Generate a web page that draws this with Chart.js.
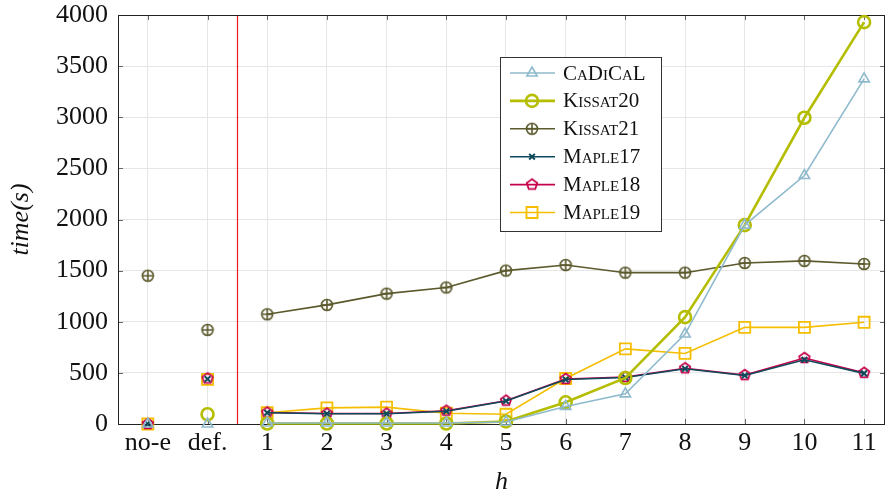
<!DOCTYPE html>
<html>
<head>
<meta charset="utf-8">
<script src="https://cdn.jsdelivr.net/npm/chart.js@4/dist/chart.umd.min.js"></script>
<style>
  html, body { margin: 0; padding: 0; background: #fff; }
</style>
</head>
<body>
<canvas id="chart" width="886" height="493"></canvas>
<script>
// h values (first two are the no-e / def. baselines)
const categories = ['no-e', 'def.', '1', '2', '3', '4', '5', '6', '7', '8', '9', '10', '11'];
const yTicks = [0, 500, 1000, 1500, 2000, 2500, 3000, 3500, 4000];

// time (s) per solver
const cadical   = [0, 0, 10, 10, 10, 10, 20, 172, 295, 880, 1945, 2430, 3375];
const kissat20  = [null, 95, 5, 5, 5, 5, 25, 212, 450, 1045, 1945, 2995, 3930];
const kissat21  = [1450, 920, 1073, 1165, 1275, 1335, 1500, 1555, 1480, 1480, 1575, 1595, 1565];
const maple17   = [0, 440, 110, 100, 100, 125, 225, 435, 455, 540, 475, 628, 495];
const maple18   = [0, 445, 112, 102, 102, 130, 228, 440, 460, 545, 478, 645, 500];
const maple19   = [0, 437, 110, 158, 165, 105, 95, 445, 735, 690, 945, 945, 995];

const FONT = 'Liberation Serif';

// category i sits at x = i - 1; break the line after no-e and def.
function toPoints(values) {
  const pts = [];
  values.forEach((v, i) => {
    pts.push({ x: i - 1, y: v });
    if (i < 2) pts.push({ x: i - 0.5, y: null });
  });
  return pts;
}

// custom marker images (pentagon, circle with plus)
function markerCanvas(color, lw, draw) {
  const c = document.createElement('canvas');
  c.width = 18; c.height = 18;
  const g = c.getContext('2d');
  g.strokeStyle = color;
  g.lineWidth = lw;
  draw(g, 9, 9);
  return c;
}
function oplus(color) {
  return markerCanvas(color, 1.6, (g, cx, cy) => {
    const r = 5.5;
    g.beginPath(); g.arc(cx, cy, r, 0, Math.PI * 2); g.stroke();
    g.beginPath();
    g.moveTo(cx - r, cy); g.lineTo(cx + r, cy);
    g.moveTo(cx, cy - r); g.lineTo(cx, cy + r);
    g.stroke();
  });
}
function pentagon(color) {
  return markerCanvas(color, 1.8, (g, cx, cy) => {
    const r = 5.5;
    g.beginPath();
    for (let k = 0; k < 5; k++) {
      const a = -Math.PI / 2 + k * 2 * Math.PI / 5;
      const px = cx + r * Math.cos(a), py = cy + r * Math.sin(a);
      if (k === 0) g.moveTo(px, py); else g.lineTo(px, py);
    }
    g.closePath();
    g.stroke();
  });
}

const colors = {
  cadical: '#8fbacd',
  kissat20: '#b4bd00',
  kissat21: '#5c5a2d',
  maple17: '#0e4a5b',
  maple18: '#c6004b',
  maple19: '#f5be00'
};

function series(label, values, color, width, style, radius, bw) {
  return {
    label: label,
    data: toPoints(values),
    borderColor: color,
    backgroundColor: 'rgba(0,0,0,0)',
    borderWidth: width,
    pointStyle: style,
    pointRadius: radius,
    pointBorderWidth: bw,
    pointBorderColor: color,
    pointBackgroundColor: 'rgba(0,0,0,0)',
    clip: false,
    tension: 0
  };
}

const datasets = [
  series('CaDiCaL', cadical, colors.cadical, 1.6, 'triangle', 6, 1.6),
  series('Kissat20', kissat20, colors.kissat20, 2.6, 'circle', 6, 2.6),
  series('Kissat21', kissat21, colors.kissat21, 1.6, oplus(colors.kissat21), 6, 1.6),
  series('Maple17', maple17, colors.maple17, 1.6, 'crossRot', 4, 2),
  series('Maple18', maple18, colors.maple18, 1.6, pentagon(colors.maple18), 6, 1.8),
  series('Maple19', maple19, colors.maple19, 1.6, 'rect', 7.8, 1.8)
];

// frame, inward ticks, red divider, legend
const framePlugin = {
  id: 'frame',
  beforeDatasetsDraw(chart) {
    const { ctx, chartArea: a, scales } = chart;
    ctx.save();
    // inward ticks
    ctx.strokeStyle = '#666';
    ctx.lineWidth = 1;
    ctx.beginPath();
    scales.x.ticks.forEach(t => {
      const px = Math.round(scales.x.getPixelForValue(t.value)) + 0.5;
      ctx.moveTo(px, a.bottom); ctx.lineTo(px, a.bottom - 5);
      ctx.moveTo(px, a.top); ctx.lineTo(px, a.top + 5);
    });
    scales.y.ticks.forEach(t => {
      const py = Math.round(scales.y.getPixelForValue(t.value)) + 0.5;
      ctx.moveTo(a.left, py); ctx.lineTo(a.left + 5, py);
      ctx.moveTo(a.right, py); ctx.lineTo(a.right - 5, py);
    });
    ctx.stroke();
    // box
    ctx.strokeStyle = '#222';
    ctx.strokeRect(Math.round(a.left) + 0.5, Math.round(a.top) + 0.5,
      Math.round(a.right - a.left) - 1, Math.round(a.bottom - a.top));
    // divider between baselines and h runs
    const xr = Math.round(scales.x.getPixelForValue(0.5)) + 0.5;
    ctx.strokeStyle = '#f01818';
    ctx.lineWidth = 1.2;
    ctx.beginPath(); ctx.moveTo(xr, a.top + 1); ctx.lineTo(xr, a.bottom); ctx.stroke();
    ctx.restore();
  },
  afterDraw(chart) {
    const { ctx } = chart;
    const bx = 500, by = 57, bw = 161, bh = 174;
    ctx.save();
    ctx.fillStyle = '#fff';
    ctx.fillRect(bx, by, bw, bh);
    ctx.strokeStyle = '#333';
    ctx.lineWidth = 1;
    ctx.strokeRect(bx + 0.5, by + 0.5, bw, bh);
    chart.data.datasets.forEach((ds, i) => {
      const cy = by + 16 + i * 27.9;
      ctx.strokeStyle = ds.borderColor;
      ctx.lineWidth = ds.borderWidth;
      ctx.beginPath(); ctx.moveTo(510, cy); ctx.lineTo(555, cy); ctx.stroke();
      ctx.fillStyle = 'rgba(0,0,0,0)';
      ctx.lineWidth = ds.pointBorderWidth;
      Chart.helpers.drawPoint(ctx, {
        pointStyle: ds.pointStyle, radius: ds.pointRadius, rotation: 0, borderWidth: ds.pointBorderWidth
      }, 532, cy);
      ctx.fillStyle = '#111';
      ctx.font = 'small-caps 21px "' + FONT + '"';
      ctx.textBaseline = 'middle';
      ctx.textAlign = 'left';
      ctx.fillText(ds.label, 563, cy + 1);
    });
    ctx.restore();
  }
};

new Chart(document.getElementById('chart'), {
  type: 'line',
  data: { datasets: datasets },
  options: {
    responsive: false,
    animation: false,
    events: [],
    layout: { autoPadding: false, padding: { top: 15, right: 1, left: 0, bottom: 0 } },
    plugins: { legend: { display: false }, tooltip: { enabled: false } },
    scales: {
      x: {
        type: 'linear',
        min: -1.5,
        max: 11.35,
        afterBuildTicks: s => { s.ticks = categories.map((c, i) => ({ value: i - 1 })); },
        afterFit: s => { s.height = 69; s.paddingLeft = 0; s.paddingRight = 0; },
        grid: { color: '#e6e6e6', drawTicks: false },
        border: { display: false },
        ticks: {
          callback: v => categories[v + 1],
          autoSkip: false,
          maxRotation: 0,
          padding: 4,
          color: '#111',
          font: { family: FONT, size: 26 }
        },
        title: {
          display: true,
          text: 'h',
          color: '#111',
          padding: { top: 0, bottom: -5 },
          font: { family: FONT, size: 26, style: 'italic' }
        }
      },
      y: {
        min: 0,
        max: 4000,
        afterBuildTicks: s => { s.ticks = yTicks.map(v => ({ value: v })); },
        afterFit: s => { s.width = 118; s.paddingTop = 0; s.paddingBottom = 0; },
        grid: { color: '#e6e6e6', drawTicks: false },
        border: { display: false },
        ticks: {
          callback: v => String(v),
          padding: 10,
          color: '#111',
          font: { family: FONT, size: 26 }
        },
        title: {
          display: true,
          text: 'time(s)',
          color: '#111',
          padding: { top: 6, bottom: 0 },
          font: { family: FONT, size: 26, style: 'italic' }
        }
      }
    }
  },
  plugins: [framePlugin]
});
</script>
</body>
</html>
